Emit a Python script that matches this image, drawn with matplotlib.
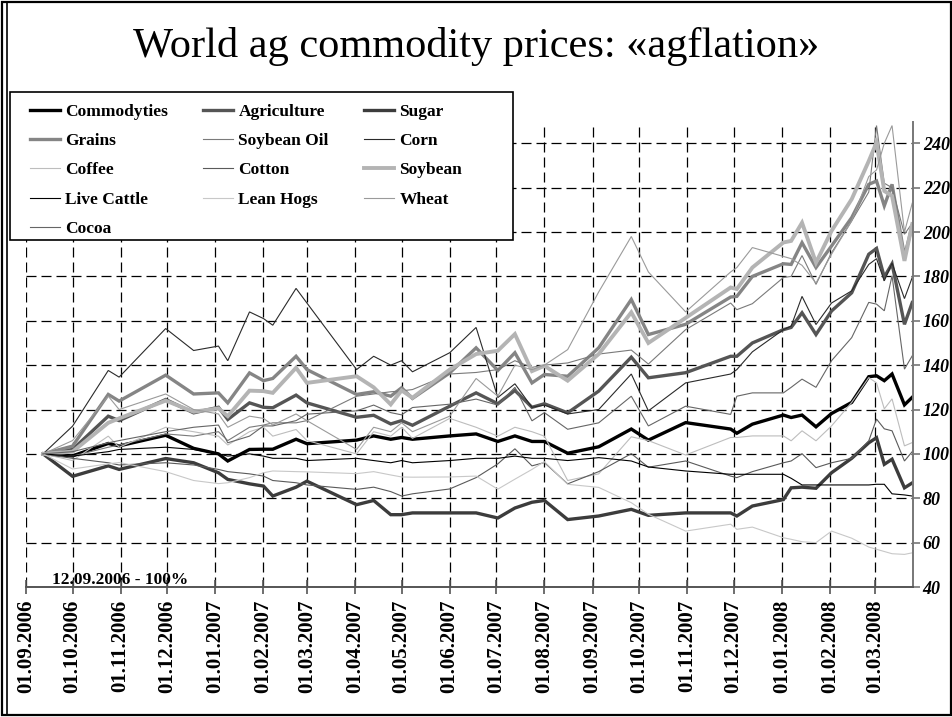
import datetime as dt
import matplotlib
matplotlib.use('Agg')
import matplotlib.pyplot as plt
import matplotlib.dates as mdates
from matplotlib.lines import Line2D

plt.rcParams['font.family'] = ['Liberation Serif', 'DejaVu Serif']

# data: index, 12.09.2006 = 100
dates = ['2006-09-12', '2006-10-01', '2006-10-24', '2006-10-31', '2006-11-30', '2006-12-18',
         '2007-01-03', '2007-01-09', '2007-01-23', '2007-02-01', '2007-02-07', '2007-02-22',
         '2007-03-01', '2007-04-02', '2007-04-13', '2007-04-24', '2007-05-01', '2007-05-08',
         '2007-06-01', '2007-06-18', '2007-07-02', '2007-07-13', '2007-07-24', '2007-08-01',
         '2007-08-16', '2007-09-05', '2007-09-26', '2007-10-07', '2007-10-31', '2007-11-29',
         '2007-12-03', '2007-12-13', '2008-01-02', '2008-01-07', '2008-01-14', '2008-01-23',
         '2008-02-02', '2008-02-15', '2008-02-26', '2008-03-02', '2008-03-07', '2008-03-12',
         '2008-03-20', '2008-03-25']

commodyties = [100, 99.1, 104.7, 103.6, 108.4, 102.5, 100, 96.8, 102, 102.1, 102.1, 106.6,
               104.6, 106.2, 108.1, 106.6, 107.4, 106.6, 108.1, 109, 105.6, 108.1, 105.6, 105.6,
               100.3, 103.2, 111.2, 106.2, 114.1, 111.2, 109.3, 113.4, 117.5, 116.4, 117.5, 112.2,
               118.2, 123.2, 134.8, 135.2, 133, 136, 122.1, 125.5]
agriculture = [100, 102, 117, 115, 124.5, 118.5, 121, 115.5, 123, 121, 120.8, 126.5,
               123, 116.5, 117.4, 113.5, 115, 112.9, 121.5, 127.5, 122.6, 128.6, 121, 122.6,
               118.5, 128.3, 143.6, 134.3, 136.6, 144, 144, 150, 156, 157, 163.6, 153.8,
               164.4, 172.6, 190, 192.6, 179.7, 185.7, 158.4, 168.2]
sugar = [100, 89.9, 94.6, 93, 97.9, 96, 91.5, 88.5, 86.5, 85.5, 81, 85,
         87.7, 77.1, 79, 72.6, 72.6, 73.4, 73.4, 73.4, 71.1, 75.6, 78.2, 79,
         70.4, 72, 75, 72.3, 73.4, 73.4, 72, 76.5, 79.4, 84.7, 85, 84.5,
         91.5, 98, 105, 107.3, 95.3, 97.6, 84.7, 86.9]
grains = [100, 103.5, 126.8, 123.8, 135.5, 127, 127.5, 123, 136.5, 133, 134, 144,
          138, 126.8, 128, 126, 129.8, 125, 136.5, 147.8, 137.6, 145.6, 132, 135.8,
          135, 147.8, 169.6, 153.8, 158.4, 170.7, 171, 180, 185.7, 185.4, 195.2, 184,
          193.7, 206.5, 221.5, 223, 211.8, 221.5, 189, 202.8]
soybean_oil = [100, 99, 103, 104, 109, 108, 110, 106, 112, 113, 114, 114,
               115, 126, 127, 128, 128.4, 129, 136, 136.7, 138, 142, 139, 140,
               141, 145, 146.8, 140.5, 156, 168, 165, 167.7, 179.5, 180, 189.4, 176.4,
               190.7, 205, 218, 248, 222, 220, 199, 204]
corn = [100, 112.5, 137.6, 134.6, 156.5, 146.6, 148.6, 142, 164, 161, 158, 174.6,
        168, 138, 144, 140, 142, 137, 145.6, 157, 125.4, 131.6, 121, 122,
        118, 120, 136, 119.4, 132, 136, 138, 146, 156, 157.6, 171, 158.3,
        168, 173.5, 185.4, 188, 178, 186, 170, 179.5]
coffee = [100, 97, 108, 103, 112, 110, 108, 104, 110, 112, 108, 111,
          106, 100, 110, 108, 112, 107, 116, 112, 108, 112, 110, 108,
          88, 91, 107.7, 106, 99.5, 107.4, 107.4, 108.1, 108.1, 105.9, 110.4, 105.9,
          112.6, 123.2, 134.4, 132, 120.3, 124.8, 103.6, 105.1]
cotton = [100, 98, 96, 95, 96, 95, 93, 92, 91, 90, 88, 87,
          86, 84, 85, 83, 81, 82, 84.2, 89.3, 95.5, 102.3, 94.6, 96.1,
          86.5, 92, 100.1, 94, 96.8, 90, 89.3, 92, 96, 96.8, 100.1, 93.8,
          96, 98, 105.9, 115.7, 111.3, 110.4, 96.8, 101]
soybean = [100, 101, 114, 116, 124, 119, 120.5, 117, 128.5, 128.3, 127.5, 138.8,
           132, 135, 130, 122.3, 128.6, 125.3, 138, 145, 146.5, 154, 137.3, 139.7,
           133, 145, 163.8, 150, 161.3, 175, 174.3, 184, 195.3, 196, 204.2, 186.2,
           200.5, 214.8, 232, 240.4, 218.5, 216.3, 187, 203.6]
live_cattle = [100, 99, 101, 102, 103, 102, 100, 99, 100, 99, 98, 98,
               97, 98, 97, 96, 97, 96, 97, 98, 98, 99, 98, 98,
               97, 98.3, 96.8, 94.1, 92.3, 90.8, 90.8, 90.8, 90.8, 89, 86, 86,
               86, 86, 86, 86.3, 86.3, 82, 81.5, 81]
lean_hogs = [100, 93.2, 95.5, 96.1, 92, 88, 86.6, 87, 89.3, 91.5, 92.3, 92,
             91.9, 91.1, 92, 90.5, 89.6, 89.5, 89.6, 90, 84.1, 88.6, 93, 96.5,
             86.3, 84.9, 78, 72.8, 65.2, 68.3, 66, 67, 62.2, 61.5, 60.4, 60,
             65.2, 62, 58, 57, 56, 55, 54.7, 55.4]
wheat = [100, 106, 126, 120, 127, 120, 118, 112, 117, 116, 113, 118,
         115, 102, 112, 110, 114, 110, 117, 134, 126, 140, 138, 140,
         147, 173, 198, 182, 164, 182, 184, 193, 189, 188, 185, 177,
         190, 205, 225, 228, 240, 248, 200, 213]
cocoa = [100, 101, 105, 106, 110, 112, 113, 105, 108, 112.6, 112.6, 115,
         117.9, 119.4, 122, 118.6, 117.6, 120.9, 122.4, 124.7, 122, 130, 114.9, 118.6,
         111.1, 114, 126, 112.6, 121.5, 117.8, 126, 127.5, 127.5, 130, 133.7, 130,
         142, 152.4, 168.3, 167.5, 164.5, 180.3, 138.2, 144.2]

month_ticks = ['2006-09-01', '2006-10-01', '2006-11-01', '2006-12-01', '2007-01-01',
               '2007-02-01', '2007-03-01', '2007-04-01', '2007-05-01', '2007-06-01',
               '2007-07-01', '2007-08-01', '2007-09-01', '2007-10-01', '2007-11-01',
               '2007-12-01', '2008-01-01', '2008-02-01', '2008-03-01']
y_ticks = [40, 60, 80, 100, 120, 140, 160, 180, 200, 220, 240]

# name, values, colour, width
series = [
    ('Commodyties', commodyties, '#000000', 2.4),
    ('Agriculture', agriculture, '#555555', 2.4),
    ('Sugar', sugar, '#3c3c3c', 2.4),
    ('Grains', grains, '#858585', 2.4),
    ('Soybean Oil', soybean_oil, '#7a7a7a', 0.8),
    ('Corn', corn, '#2a2a2a', 0.8),
    ('Coffee', coffee, '#bdbdbd', 0.8),
    ('Cotton', cotton, '#5a5a5a', 0.8),
    ('Soybean', soybean, '#b4b4b4', 2.8),
    ('Live Cattle', live_cattle, '#000000', 0.8),
    ('Lean Hogs', lean_hogs, '#c8c8c8', 0.8),
    ('Wheat', wheat, '#9a9a9a', 0.8),
    ('Cocoa', cocoa, '#666666', 0.8),
]

W, H = 953, 717
fig = plt.figure(figsize=(W / 100, H / 100), dpi=100)
ax = fig.add_axes([26 / W, 1 - 587 / H, (913 - 26) / W, (587 - 122) / H])

x = [dt.datetime.strptime(d, '%Y-%m-%d') for d in dates]
handles = {}
for name, vals, col, lw in series:
    ln, = ax.plot(x, vals, color=col, lw=lw, solid_joinstyle='miter')
    handles[name] = ln

ax.set_xlim(dt.datetime(2006, 9, 1), dt.datetime(2008, 3, 25, 12))
ax.set_ylim(40, 249.6)

ax.set_xticks([dt.datetime.strptime(d, '%Y-%m-%d') for d in month_ticks])
ax.xaxis.set_major_formatter(mdates.DateFormatter('%d.%m.%Y'))
ax.set_yticks(y_ticks)

ax.grid(True, color='black', lw=0.9, linestyle=(0, (8, 4)))
ax.set_axisbelow(True)

for s in ['top', 'left']:
    ax.spines[s].set_visible(False)
ax.spines['bottom'].set_color('#555555')
ax.spines['right'].set_color('#777777')
ax.spines['bottom'].set_linewidth(1.4)
ax.spines['right'].set_linewidth(1.4)

ax.yaxis.tick_right()
ax.tick_params(axis='x', direction='inout', length=10, width=1.2, color='#555555', pad=4)
ax.tick_params(axis='y', direction='out', length=5, width=1.2, color='#777777', pad=2)
for lab in ax.get_xticklabels():
    lab.set_rotation(90)
    lab.set_fontweight('bold')
    lab.set_fontsize(15)
for lab in ax.get_yticklabels():
    lab.set_fontweight('bold')
    lab.set_fontstyle('italic')
    lab.set_fontsize(13)

fig.text(52 / W, 1 - 584 / H, '12.09.2006 - 100%', fontsize=12.5, fontweight='bold',
         va='baseline')

fig.text(0.5, 1 - 46 / H, 'World ag commodity prices: \u00abagflation\u00bb',
         ha='center', va='center', fontsize=30.5)

# legend box (white, covers the lines), then the entries row by row
fig.add_artist(plt.Rectangle((10 / W, 1 - 240 / H), 503 / W, 148 / H,
                             transform=fig.transFigure, facecolor='white',
                             edgecolor='black', lw=1.2, zorder=4))
order = ['Commodyties', 'Grains', 'Coffee', 'Live Cattle', 'Cocoa',
         'Agriculture', 'Soybean Oil', 'Cotton', 'Lean Hogs',
         'Sugar', 'Corn', 'Soybean', 'Wheat']
leg = fig.legend([handles[n] for n in order], order, ncol=3, mode='expand',
                 loc='upper left',
                 bbox_to_anchor=(30 / W, 1 - 236 / H, 432 / W, 132 / H),
                 bbox_transform=fig.transFigure, borderaxespad=0, borderpad=0,
                 prop={'weight': 'bold', 'size': 12.5}, frameon=False,
                 handlelength=1.72, handletextpad=0.3, labelspacing=0.75)
leg.set_zorder(5)

# outer frame
fig.add_artist(plt.Rectangle((2 / W, 2 / H), (W - 4) / W, (H - 4) / H, transform=fig.transFigure,
                             fill=False, edgecolor='black', lw=1.6))
fig.add_artist(Line2D([7 / W, 7 / W], [2 / H, 1 - 2 / H], transform=fig.transFigure,
                      color='black', lw=1.2))

fig.savefig('out.png', dpi=100)
